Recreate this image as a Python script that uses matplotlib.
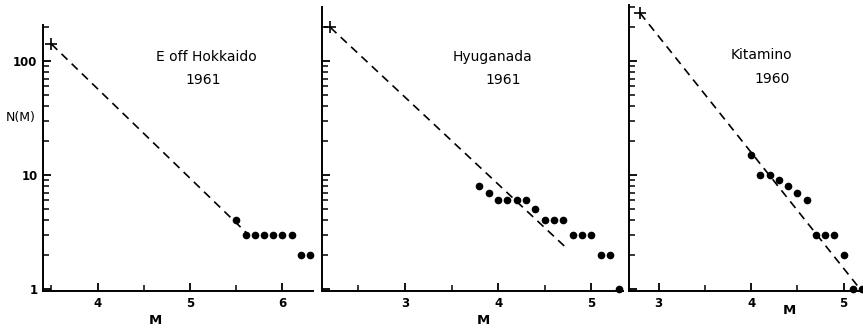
import matplotlib.pyplot as plt
import matplotlib.ticker as mticker

# Panel 1: E off Hokkaido 1961
m1 = [5.5, 5.6, 5.7, 5.8, 5.9, 6.0, 6.1, 6.2, 6.3]
n1 = [4, 3, 3, 3, 3, 3, 3, 2, 2]
star1 = (3.5, 141)
fit1_m = [3.5, 5.63]
fit1_n = [141, 3]

# Panel 2: Hyuganada 1961
m2 = [3.8, 3.9, 4.0, 4.1, 4.2, 4.3, 4.4, 4.5, 4.6, 4.7, 4.8, 4.9, 5.0, 5.1, 5.2, 5.3]
n2 = [8, 7, 6, 6, 6, 6, 5, 4, 4, 4, 3, 3, 3, 2, 2, 1]
star2 = (2.2, 197)
fit2_m = [2.2, 4.73]
fit2_n = [197, 2.3]

# Panel 3: Kitamino 1960
m3 = [4.0, 4.1, 4.2, 4.3, 4.4, 4.5, 4.6, 4.7, 4.8, 4.9, 5.0, 5.1, 5.2]
n3 = [15, 10, 10, 9, 8, 7, 6, 3, 3, 3, 2, 1, 1]
star3 = (2.8, 263)
fit3_m = [2.8, 5.2]
fit3_n = [263, 0.95]

W, H = 863, 331


def fx(px):
    return px / W


def fy(py):
    return 1 - py / H


fig = plt.figure(figsize=(W / 100, H / 100), dpi=100)

panels = [
    dict(m=m1, n=n1, star=star1, fm=fit1_m, fn=fit1_n, box=(43, 313, 25),
         xlim=(3.41, 6.33), ytop=207, xt=[4, 5, 6], labels=True,
         name='E off Hokkaido', year='1961', tpos=(206, 57), ypos=(203, 80), mpos=(155, 320)),
    dict(m=m2, n=n2, star=star2, fm=fit2_m, fn=fit2_n, box=(322, 623, 7),
         xlim=(2.11, 5.34), ytop=298, xt=[3, 4, 5], labels=False,
         name='Hyuganada', year='1961', tpos=(492, 57), ypos=(503, 80), mpos=(483, 320)),
    dict(m=m3, n=n3, star=star3, fm=fit3_m, fn=fit3_n, box=(629, 863, 5),
         xlim=(2.68, 5.21), ytop=310, xt=[3, 4, 5], labels=False,
         name='Kitamino', year='1960', tpos=(761, 55), ypos=(772, 79), mpos=(789, 310)),
]

for p in panels:
    left, right, top = p['box']
    ax = fig.add_axes([fx(left), fy(291), fx(right) - fx(left), fy(top) - fy(291)])
    ax.set_yscale('log')
    ax.set_xlim(*p['xlim'])
    ax.set_ylim(0.96, p['ytop'])
    for s in ['top', 'right']:
        ax.spines[s].set_visible(False)
    for s in ['left', 'bottom']:
        ax.spines[s].set_linewidth(1.4)

    ax.plot(p['fm'], p['fn'], color='black', ls=(0, (5, 3.5)), lw=1.2)
    ax.plot(p['m'], p['n'], 'o', color='black', ms=4.5, clip_on=False)
    ax.plot([p['star'][0]], [p['star'][1]], '+', color='black', ms=9, mew=1.2, clip_on=False)

    ax.xaxis.set_major_locator(mticker.FixedLocator(p['xt']))
    ax.xaxis.set_minor_locator(mticker.MultipleLocator(0.5))
    ax.yaxis.set_major_locator(mticker.FixedLocator([1, 10, 100]))
    ax.yaxis.set_minor_locator(mticker.LogLocator(base=10, subs=range(2, 10), numticks=20))
    ax.yaxis.set_minor_formatter(mticker.NullFormatter())
    if p['labels']:
        ax.yaxis.set_major_formatter(mticker.FixedFormatter(['1', '10', '100']))
    else:
        ax.yaxis.set_major_formatter(mticker.NullFormatter())

    ax.tick_params(axis='both', which='major', direction='in', length=6, width=1.3,
                   labelsize=8.5, pad=4)
    ax.tick_params(axis='both', which='minor', direction='in', length=4.5, width=1.1)
    for lab in ax.get_xticklabels() + ax.get_yticklabels():
        lab.set_fontweight('bold')

    fig.text(fx(p['tpos'][0]), fy(p['tpos'][1]), p['name'], ha='center', va='center', fontsize=10)
    fig.text(fx(p['ypos'][0]), fy(p['ypos'][1]), p['year'], ha='center', va='center', fontsize=10)
    fig.text(fx(p['mpos'][0]), fy(p['mpos'][1]), 'M', ha='center', va='center', fontsize=9.5,
             fontweight='bold')

fig.text(fx(21), fy(118), 'N(M)', ha='center', va='center', fontsize=9)

fig.savefig('out.png', dpi=100)
